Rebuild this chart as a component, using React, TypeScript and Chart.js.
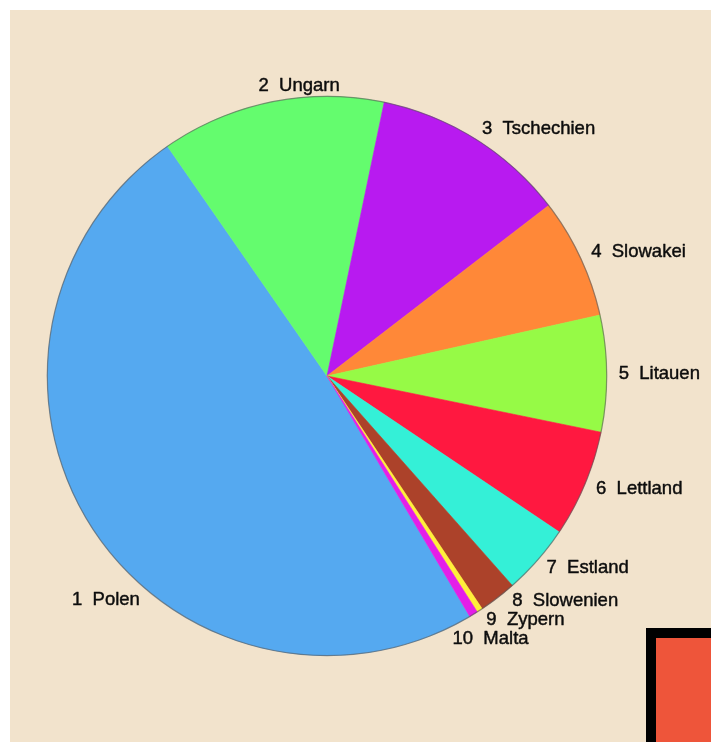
import React, { useEffect, useRef } from 'react';
import { Chart, registerables } from 'chart.js';

Chart.register(...registerables);

// ---- data ----
const ranks = ['1', '2', '3', '4', '5', '6', '7', '8', '9', '10'];
const countries = ['Polen', 'Ungarn', 'Tschechien', 'Slowakei', 'Litauen', 'Lettland', 'Estland', 'Slowenien', 'Zypern', 'Malta'];
const shares = [48.86, 12.94, 11.28, 6.94, 6.72, 6.19, 4.06, 2.17, 0.33, 0.5];
const sliceColors = ['#55A9F0', '#64FC6E', '#B81AF0', '#FF8838', '#96FA46', '#FF1840', '#34F0D7', '#AC422A', '#FFF03A', '#E41EE8'];

const BG = '#F2E3CC';

type LabelItem = { text: string; x: number; y: number; y0: number; align: CanvasTextAlign; side: number; cx: number; cy: number; r: number };

function spread(items: LabelItem[], gap: number, bias: number) {
  items.sort((a, b) => a.y0 - b.y0);
  let clusters = items.map((it) => ({ items: [it], y: it.y0 }));
  let changed = true;
  while (changed) {
    changed = false;
    for (let k = 0; k < clusters.length - 1; k++) {
      const a = clusters[k];
      const b = clusters[k + 1];
      const aBottom = a.y + ((a.items.length - 1) * gap) / 2;
      const bTop = b.y - ((b.items.length - 1) * gap) / 2;
      if (bTop - aBottom < gap - 0.01) {
        const merged = [...a.items, ...b.items];
        const mean = merged.reduce((s, it) => s + it.y0, 0) / merged.length;
        clusters.splice(k, 2, { items: merged, y: mean + bias });
        changed = true;
        break;
      }
    }
  }
  clusters.forEach((c) =>
    c.items.forEach((it, j) => {
      const ny = c.y + (j - (c.items.length - 1) / 2) * gap;
      if (Math.abs(ny - it.y0) > 0.01) {
        const dy = ny - it.cy;
        const dx = Math.sqrt(Math.max(it.r * it.r - dy * dy, 0));
        it.x = it.cx + it.side * dx;
      }
      it.y = ny;
    })
  );
}

const outerLabels = {
  id: 'outerLabels',
  afterDatasetsDraw(chart: any, _args: any, opts: any) {
    const meta = chart.getDatasetMeta(0);
    const ctx: CanvasRenderingContext2D = chart.ctx;
    const labels: string[] = chart.data.labels;
    const shiftMap: Record<number, number> = opts.angleShift || {};
    const items: LabelItem[] = [];
    let cx = 0, cy = 0, R = 0;
    meta.data.forEach((arc: any, i: number) => {
      const p = arc.getProps(['x', 'y', 'startAngle', 'endAngle', 'outerRadius'], true);
      cx = p.x; cy = p.y; R = p.outerRadius;
      const mid = (p.startAngle + p.endAngle) / 2 + ((shiftMap[i] || 0) * Math.PI) / 180;
      const r = p.outerRadius + opts.gap;
      const x = p.x + r * Math.cos(mid);
      const y = p.y + r * Math.sin(mid);
      let clock = ((mid * 180) / Math.PI + 90) % 360;
      if (clock < 0) clock += 360;
      let align: CanvasTextAlign = 'left';
      let side = 1;
      if (clock < 15 || clock > 345 || Math.abs(clock - 180) < 15) { align = 'center'; side = 0; }
      else if (clock > 180) { align = 'right'; side = -1; }
      items.push({ text: labels[i], x, y, y0: y, align, side, cx: p.x, cy: p.y, r });
    });
    // outer outline
    ctx.save();
    ctx.beginPath();
    ctx.arc(cx, cy, R, 0, Math.PI * 2);
    ctx.strokeStyle = 'rgba(85,85,85,0.6)';
    ctx.lineWidth = 1.2;
    ctx.stroke();
    ctx.restore();

    spread(items.filter((it) => it.side === 1), opts.lineGap, opts.clusterBias);
    spread(items.filter((it) => it.side === -1), opts.lineGap, opts.clusterBias);

    ctx.save();
    ctx.font = opts.font;
    ctx.fillStyle = opts.color;
    ctx.strokeStyle = opts.color;
    ctx.lineWidth = 0.45;
    ctx.lineJoin = 'round';
    ctx.textBaseline = 'middle';
    items.forEach((it) => {
      ctx.textAlign = it.align;
      ctx.fillText(it.text, it.x, it.y);
      ctx.strokeText(it.text, it.x, it.y);
    });
    ctx.restore();
  },
};

export default function App() {
  const canvasRef = useRef<HTMLCanvasElement | null>(null);

  useEffect(() => {
    if (!canvasRef.current) return;
    const chart = new Chart(canvasRef.current, {
      type: 'pie',
      data: {
        labels: countries.map((c, i) => `${ranks[i]}  ${c}`),
        datasets: [
          {
            data: shares,
            backgroundColor: sliceColors,
            borderColor: sliceColors,
            borderWidth: 0.6,
          },
        ],
      },
      options: {
        responsive: false,
        animation: false,
        devicePixelRatio: 1,
        rotation: 149.3,
        layout: { padding: { left: 37, right: 104, top: 86, bottom: 86 } },
        plugins: {
          legend: { display: false },
          tooltip: { enabled: false },
          title: { display: false },
          outerLabels: {
            gap: 12,
            lineGap: 19,
            clusterBias: 3,
            angleShift: { 0: -17.35, 1: 6 },
            font: '18.5px "Liberation Sans", Arial, sans-serif',
            color: '#0d0d0d',
          },
        } as any,
      },
      plugins: [outerLabels],
    });
    return () => chart.destroy();
  }, []);

  return (
    <>
      <div style={{ position: 'absolute', left: 10, top: 10, width: 701, height: 732, background: BG }}>
        <canvas ref={canvasRef} width={701} height={732} style={{ display: 'block', width: 701, height: 732 }} />
      </div>
      <div
        style={{
          position: 'absolute',
          left: 646,
          top: 628,
          width: 65,
          height: 114,
          boxSizing: 'border-box',
          background: '#EE553A',
          borderLeft: '10px solid #000',
          borderTop: '10px solid #000',
        }}
      />
    </>
  );
}
